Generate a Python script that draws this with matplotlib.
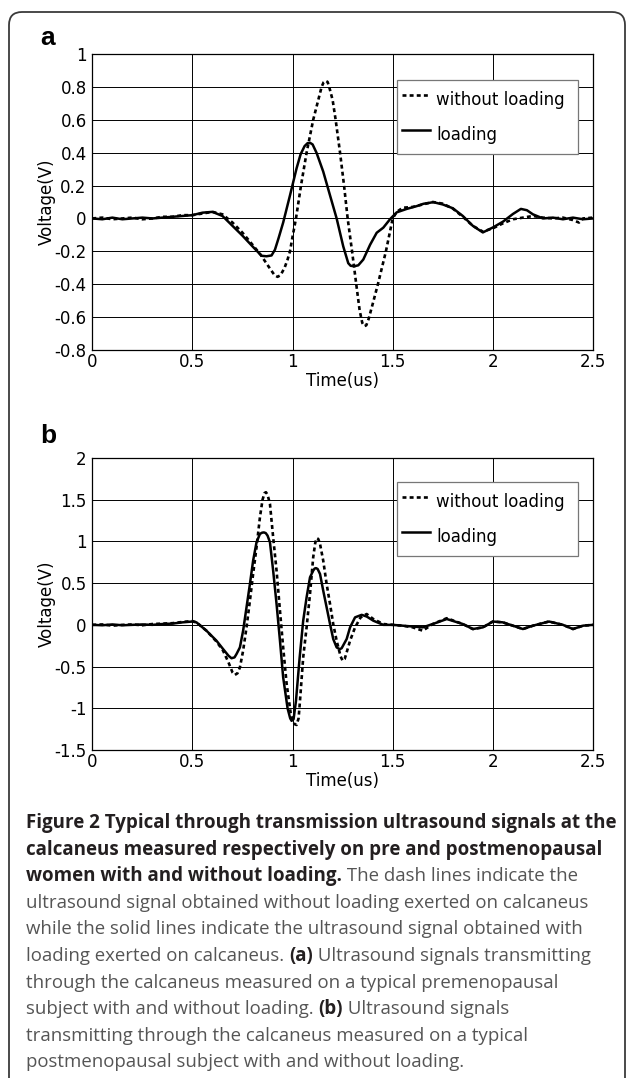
import matplotlib
matplotlib.use("Agg")
import matplotlib.pyplot as plt
from matplotlib.patches import FancyBboxPatch
from matplotlib.transforms import IdentityTransform
from matplotlib.ticker import FixedLocator, FuncFormatter

plt.rcParams['axes.unicode_minus'] = False
plt.rcParams['font.family'] = ['DejaVu Sans']

# ---------------- data ----------------
# Panel a: premenopausal subject
a_t_without = [0.00, 0.05, 0.10, 0.15, 0.20, 0.25, 0.30, 0.35, 0.40, 0.45, 0.50, 0.55, 0.60, 0.65,
               0.70, 0.75, 0.80, 0.84, 0.89, 0.91, 0.925, 0.94, 0.96, 0.975, 0.987, 1.00, 1.017,
               1.042, 1.07, 1.103, 1.145, 1.155, 1.165, 1.175, 1.185, 1.20, 1.215, 1.237, 1.257,
               1.275, 1.297, 1.32, 1.335, 1.348, 1.358, 1.368, 1.38, 1.40, 1.426, 1.466, 1.50, 1.52,
               1.55, 1.60, 1.65, 1.70, 1.75, 1.80, 1.85, 1.90, 1.95, 2.00, 2.05, 2.10, 2.15, 2.20,
               2.25, 2.30, 2.35, 2.40, 2.43, 2.45, 2.50]
a_v_without = [0.000, 0.005, -0.005, 0.000, 0.005, -0.005, 0.000, 0.010, 0.010, 0.020, 0.020, 0.030,
               0.040, 0.025, -0.025, -0.087, -0.160, -0.220, -0.310, -0.345, -0.355, -0.345, -0.300,
               -0.250, -0.200, -0.110, 0.000, 0.200, 0.400, 0.600, 0.800, 0.828, 0.837, 0.830, 0.790,
               0.720, 0.600, 0.400, 0.200, 0.000, -0.200, -0.420, -0.560, -0.635, -0.655, -0.650,
               -0.610, -0.520, -0.400, -0.200, 0.000, 0.040, 0.065, 0.070, 0.085, 0.100, 0.090,
               0.060, 0.010, -0.045, -0.080, -0.060, -0.030, -0.005, 0.005, 0.015, 0.005, 0.000,
               0.005, -0.010, -0.025, 0.000, 0.005]

a_t_loading = [0.00, 0.05, 0.10, 0.15, 0.20, 0.25, 0.30, 0.35, 0.40, 0.45, 0.50, 0.55, 0.60, 0.65,
               0.70, 0.75, 0.80, 0.845, 0.87, 0.895, 0.912, 0.93, 0.953, 0.987, 1.02, 1.04, 1.06,
               1.075, 1.087, 1.10, 1.12, 1.153, 1.187, 1.22, 1.253, 1.278, 1.29, 1.31, 1.328, 1.353,
               1.387, 1.42, 1.453, 1.487, 1.52, 1.57, 1.62, 1.653, 1.703, 1.75, 1.80, 1.85, 1.90,
               1.95, 2.00, 2.05, 2.10, 2.14, 2.17, 2.20, 2.25, 2.30, 2.35, 2.40, 2.45, 2.50]
a_v_loading = [0.000, -0.005, 0.005, -0.005, 0.000, 0.005, 0.000, 0.005, 0.010, 0.015, 0.020, 0.035,
               0.040, 0.015, -0.045, -0.105, -0.170, -0.227, -0.230, -0.225, -0.190, -0.120, -0.025,
               0.140, 0.305, 0.390, 0.440, 0.458, 0.460, 0.450, 0.398, 0.285, 0.140, 0.000, -0.170,
               -0.272, -0.288, -0.290, -0.285, -0.250, -0.160, -0.087, -0.056, -0.004, 0.037, 0.058,
               0.075, 0.089, 0.099, 0.085, 0.062, 0.015, -0.045, -0.085, -0.055, -0.020, 0.027,
               0.058, 0.050, 0.025, 0.000, 0.005, -0.005, 0.005, -0.005, 0.000]

# Panel b: postmenopausal subject
b_t_without = [0.00, 0.05, 0.10, 0.15, 0.20, 0.25, 0.30, 0.35, 0.40, 0.45, 0.50, 0.52, 0.57, 0.62,
               0.653, 0.68, 0.70, 0.712, 0.725, 0.737, 0.753, 0.77, 0.787, 0.803, 0.82, 0.837, 0.850,
               0.860, 0.867, 0.875, 0.887, 0.903, 0.92, 0.937, 0.953, 0.97, 0.99, 1.00, 1.010, 1.020,
               1.03, 1.037, 1.053, 1.07, 1.087, 1.103, 1.113, 1.12, 1.128, 1.137, 1.153, 1.17, 1.187,
               1.203, 1.22, 1.24, 1.25, 1.26, 1.27, 1.287, 1.312, 1.34, 1.37, 1.403, 1.453, 1.50,
               1.55, 1.60, 1.65, 1.70, 1.77, 1.85, 1.90, 1.95, 2.00, 2.05, 2.10, 2.15, 2.20, 2.28,
               2.35, 2.40, 2.45, 2.50]
b_v_without = [0.00, 0.005, -0.01, 0.00, 0.005, -0.005, 0.01, 0.015, 0.02, 0.035, 0.045, 0.03, -0.07,
               -0.20, -0.31, -0.45, -0.57, -0.60, -0.58, -0.51, -0.31, -0.03, 0.29, 0.61, 0.93, 1.29,
               1.50, 1.58, 1.59, 1.56, 1.45, 1.05, 0.65, 0.17, -0.27, -0.70, -1.05, -1.15, -1.19,
               -1.20, -1.12, -0.91, -0.39, -0.03, 0.37, 0.81, 0.98, 1.04, 1.03, 0.97, 0.77, 0.49,
               0.25, 0.01, -0.19, -0.38, -0.43, -0.41, -0.33, -0.19, -0.03, 0.09, 0.13, 0.07, 0.01,
               0.00, -0.01, -0.03, -0.07, 0.01, 0.08, 0.01, -0.05, -0.03, 0.04, 0.03, -0.01, -0.05,
               -0.01, 0.04, 0.00, -0.05, -0.01, 0.00]

b_t_loading = [0.00, 0.05, 0.10, 0.15, 0.20, 0.25, 0.30, 0.35, 0.40, 0.45, 0.50, 0.52, 0.57, 0.62,
               0.653, 0.68, 0.695, 0.71, 0.72, 0.737, 0.753, 0.77, 0.787, 0.803, 0.82, 0.837, 0.848,
               0.857, 0.866, 0.875, 0.887, 0.903, 0.92, 0.937, 0.953, 0.975, 0.988, 0.995, 1.005,
               1.017, 1.035, 1.053, 1.07, 1.087, 1.103, 1.110, 1.117, 1.125, 1.137, 1.153, 1.17,
               1.187, 1.203, 1.22, 1.23, 1.237, 1.245, 1.27, 1.287, 1.312, 1.345, 1.37, 1.403, 1.453,
               1.50, 1.55, 1.60, 1.65, 1.70, 1.77, 1.85, 1.90, 1.95, 2.00, 2.05, 2.10, 2.15, 2.20,
               2.28, 2.35, 2.40, 2.45, 2.50]
b_v_loading = [0.00, -0.005, 0.005, -0.005, 0.00, 0.005, 0.00, 0.01, 0.015, 0.03, 0.04, 0.03, -0.07,
               -0.19, -0.29, -0.37, -0.40, -0.39, -0.35, -0.27, -0.07, 0.21, 0.49, 0.77, 0.99, 1.09,
               1.105, 1.108, 1.10, 1.07, 0.99, 0.65, 0.25, -0.19, -0.63, -1.00, -1.12, -1.15, -1.13,
               -0.91, -0.40, 0.05, 0.33, 0.57, 0.65, 0.675, 0.68, 0.67, 0.61, 0.41, 0.21, 0.01,
               -0.17, -0.27, -0.285, -0.29, -0.28, -0.17, -0.03, 0.09, 0.12, 0.10, 0.05, 0.00, 0.00,
               -0.01, -0.02, -0.03, 0.01, 0.07, 0.01, -0.05, -0.03, 0.04, 0.03, -0.01, -0.05, -0.01,
               0.04, 0.00, -0.05, -0.01, 0.00]

x_ticks = [0, 0.5, 1, 1.5, 2, 2.5]
a_y_ticks = [1, 0.8, 0.6, 0.4, 0.2, 0, -0.2, -0.4, -0.6, -0.8]
b_y_ticks = [2, 1.5, 1, 0.5, 0, -0.5, -1, -1.5]
series_labels = ["without loading", "loading"]
x_label = "Time(us)"
y_label = "Voltage(V)"

caption_lines = [
    [("b", "Figure 2 Typical through transmission ultrasound signals at the")],
    [("b", "calcaneus measured respectively on pre and postmenopausal")],
    [("b", "women with and without loading."), ("r", " The dash lines indicate the")],
    [("r", "ultrasound signal obtained without loading exerted on calcaneus")],
    [("r", "while the solid lines indicate the ultrasound signal obtained with")],
    [("r", "loading exerted on calcaneus. "), ("b", "(a)"), ("r", " Ultrasound signals transmitting")],
    [("r", "through the calcaneus measured on a typical premenopausal")],
    [("r", "subject with and without loading. "), ("b", "(b)"), ("r", " Ultrasound signals")],
    [("r", "transmitting through the calcaneus measured on a typical")],
    [("r", "postmenopausal subject with and without loading.")],
]

# ---------------- figure ----------------
W, H = 627, 1078
fig = plt.figure(figsize=(W / 100, H / 100), dpi=100)
fig.patch.set_facecolor('white')

# outer rounded frame
frame = FancyBboxPatch((9, -40), 616, H - 12 + 40,
                       boxstyle="round,pad=0,rounding_size=13",
                       transform=IdentityTransform(), fill=False,
                       ec='#3a3a3a', lw=1.3)
fig.patches.append(frame)

def px_axes(left, top, right, bottom):
    return [left / W, 1 - bottom / H, (right - left) / W, (bottom - top) / H]

fmt = FuncFormatter(lambda v, p: ('%g' % v))
TICK_FS = 12

def setup(ax, ylim, yticks, t_wo, v_wo, t_lo, v_lo, leg_top):
    ax.plot(t_wo, v_wo, color='black', lw=1.9, linestyle=(0, (1.5, 1.2)),
            label=series_labels[0], zorder=3, solid_joinstyle='round')
    ax.plot(t_lo, v_lo, color='black', lw=1.8, linestyle='-',
            label=series_labels[1], zorder=3, solid_joinstyle='round')
    ax.set_xlim(0, 2.5)
    ax.set_ylim(*ylim)
    ax.xaxis.set_major_locator(FixedLocator(x_ticks))
    ax.yaxis.set_major_locator(FixedLocator(yticks))
    ax.xaxis.set_major_formatter(fmt)
    ax.yaxis.set_major_formatter(fmt)
    ax.grid(True, color='black', lw=0.7)
    ax.set_axisbelow(True)
    ax.tick_params(axis='x', length=0, labelsize=TICK_FS, pad=2)
    ax.tick_params(axis='y', length=0, labelsize=TICK_FS, pad=4)
    for s in ax.spines.values():
        s.set_linewidth(0.9)
        s.set_color('black')
    ax.set_xlabel(x_label, fontsize=TICK_FS, va='top')
    ax.xaxis.set_label_coords(0.5, -0.075)
    ax.set_ylabel(y_label, fontsize=TICK_FS, va='center')
    ax.yaxis.set_label_coords(-0.09, 0.5)
    leg = ax.legend(loc='upper left', bbox_to_anchor=(0.608, 0.0, 0.362, leg_top),
                    mode='expand', borderaxespad=0, fontsize=12, frameon=True,
                    fancybox=False, handlelength=1.68, handleheight=2.18,
                    handletextpad=0.35, labelspacing=0.44, borderpad=0.33)
    leg.get_frame().set_edgecolor('#777777')
    leg.get_frame().set_linewidth(0.9)
    leg.get_frame().set_alpha(1)

ax_a = fig.add_axes(px_axes(92.3, 54, 593, 350))
setup(ax_a, (-0.8, 1.0), a_y_ticks, a_t_without, a_v_without, a_t_loading, a_v_loading, 0.912)
ax_b = fig.add_axes(px_axes(92.3, 458, 593, 750))
setup(ax_b, (-1.5, 2.0), b_y_ticks, b_t_without, b_v_without, b_t_loading, b_v_loading, 0.917)

fig.text(40 / W, 1 - 45 / H, "a", fontsize=19, fontweight='bold',
         family=['Liberation Sans', 'DejaVu Sans'], ha='left', va='baseline')
fig.text(40 / W, 1 - 443 / H, "b", fontsize=19, fontweight='bold',
         family=['Liberation Sans', 'DejaVu Sans'], ha='left', va='baseline')

# ---------------- caption ----------------
cap_fam = ['Open Sans', 'DejaVu Sans']
renderer = fig.canvas.get_renderer()

def measure(s, size, weight):
    t = fig.text(0, 0, s, fontsize=size, fontweight=weight, family=cap_fam)
    w = t.get_window_extent(renderer).width
    t.remove()
    return w

# fit the font sizes to the line lengths of the reference
BOLD_FS = 10 * 590 / measure(caption_lines[0][0][1], 10, 'bold')
REG_FS = 10 * 556 / measure(caption_lines[4][0][1], 10, 'normal')

x0 = 26
base0 = 828
step = 26.6
for i, segs in enumerate(caption_lines):
    x = x0
    y = H - (base0 + step * i)
    for kind, s in segs:
        if kind == 'b':
            t = fig.text(x / W, y / H, s, fontsize=BOLD_FS, fontweight='bold',
                         family=cap_fam, color='#231f20', ha='left', va='baseline')
        else:
            t = fig.text(x / W, y / H, s, fontsize=REG_FS, fontweight='normal',
                         family=cap_fam, color='#555555', ha='left', va='baseline')
        x += t.get_window_extent(renderer).width

fig.savefig("out.png", dpi=100)
